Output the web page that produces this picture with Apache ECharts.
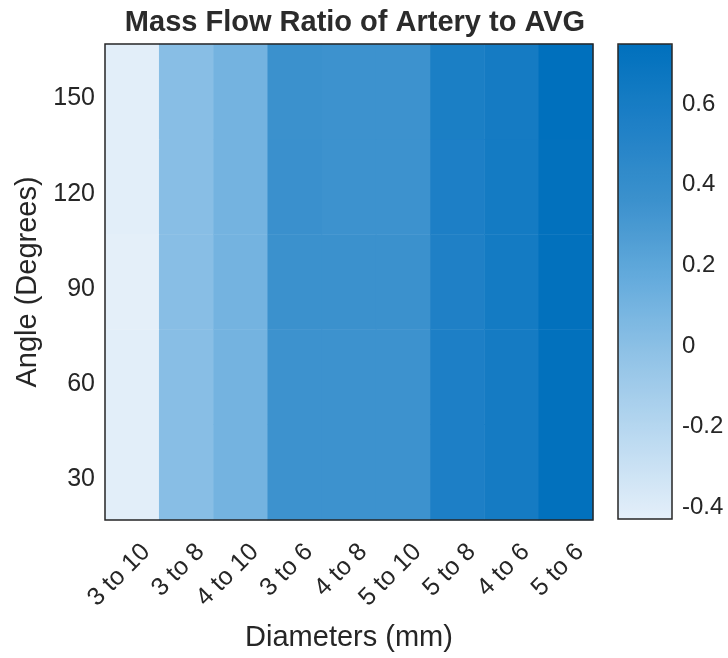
<!DOCTYPE html>
<html>
<head>
<meta charset="utf-8">
<script src="https://cdn.jsdelivr.net/npm/echarts@6/dist/echarts.min.js"></script>
<style>html,body{margin:0;padding:0;background:#fff}#c{width:728px;height:658px}</style>
</head>
<body>
<div id="c"></div>
<script>
// Categories
const diameters = ['3 to 10','3 to 8','4 to 10','3 to 6','4 to 8','5 to 10','5 to 8','4 to 6','5 to 6'];
const angles = ['30','60','90','120','150'];
// Mass flow ratio values, one array per angle (columns follow diameters)
const row30  = [-0.43, 0.00, 0.09, 0.34, 0.34, 0.34, 0.55, 0.60, 0.73];
const row60  = [-0.43, 0.00, 0.09, 0.34, 0.34, 0.34, 0.55, 0.60, 0.73];
const row90  = [-0.44, 0.00, 0.09, 0.35, 0.35, 0.35, 0.54, 0.61, 0.73];
const row120 = [-0.43, 0.00, 0.09, 0.36, 0.34, 0.34, 0.55, 0.61, 0.73];
const row150 = [-0.43, 0.00, 0.09, 0.35, 0.34, 0.34, 0.56, 0.60, 0.74];
const colorbarTicks = [-0.4, -0.2, 0, 0.2, 0.4, 0.6];
const cMin = -0.44, cMax = 0.74;

const rows = [row30, row60, row90, row120, row150];
const data = [];
rows.forEach((r, yi) => r.forEach((v, xi) => data.push([xi, yi, v])));

const txt = '#262626';
const font = 'Liberation Sans, Arial, Helvetica, sans-serif';
const chart = echarts.init(document.getElementById('c'), null, {renderer: 'canvas'});
chart.setOption({
  animation: false,
  backgroundColor: '#ffffff',
  title: {
    text: 'Mass Flow Ratio of Artery to AVG',
    left: 350, top: 3, textAlign: 'center',
    textStyle: {fontFamily: font, fontSize: 29, fontWeight: 'bold', color: '#2b2b2b'}
  },
  grid: [
    {left: 105, top: 44, width: 488, height: 476, show: true, z: 10, backgroundColor: 'transparent', borderColor: '#262626', borderWidth: 1.5},
    {left: 618, top: 44, width: 54, height: 475, show: true, z: 10, backgroundColor: 'transparent', borderColor: '#262626', borderWidth: 1.5}
  ],
  xAxis: [
    {type: 'category', gridIndex: 0, data: diameters,
     axisLine: {show: false}, axisTick: {show: false}, splitLine: {show: false},
     axisLabel: {rotate: 45, margin: 14, verticalAlign: 'top', lineHeight: 40, fontSize: 25, fontFamily: font, color: txt, interval: 0},
     name: 'Diameters (mm)', nameLocation: 'middle', nameGap: 102,
     nameTextStyle: {fontSize: 29, fontFamily: font, color: txt}},
    {type: 'value', gridIndex: 1, show: false, min: 0, max: 1}
  ],
  yAxis: [
    {type: 'category', gridIndex: 0, data: angles,
     axisLine: {show: false}, axisTick: {show: false}, splitLine: {show: false},
     axisLabel: {margin: 10, verticalAlign: 'top', lineHeight: 14, fontSize: 25, fontFamily: font, color: txt},
     name: 'Angle (Degrees)', nameLocation: 'middle', nameGap: 60, nameRotate: 90,
     nameTextStyle: {fontSize: 29, fontFamily: font, color: txt}},
    {type: 'value', gridIndex: 1, position: 'right', min: cMin, max: cMax,
     axisLine: {show: false}, splitLine: {show: false}, axisTick: {show: false},
     axisLabel: {margin: 10, verticalAlign: 'top', lineHeight: 8, fontSize: 24, fontFamily: font, color: txt, customValues: colorbarTicks,
       formatter: v => String(Math.round(v * 10) / 10)}}
  ],
  visualMap: {
    type: 'continuous', min: cMin, max: cMax, seriesIndex: 0,
    calculable: false, hoverLink: false, realtime: false,
    left: 618, top: 44, padding: 0, itemWidth: 54, itemHeight: 475,
    text: null, showLabel: false,
    inRange: {color: ['#e4eff9', '#bcdaf1', '#93c4e7', '#66acdd', '#3c91cd', '#1e80c6', '#0070bd']}
  },
  series: [{
    type: 'heatmap', xAxisIndex: 0, yAxisIndex: 0, data: data,
    itemStyle: {borderWidth: 0}, emphasis: {disabled: true}
  }]
});
</script>
</body>
</html>
